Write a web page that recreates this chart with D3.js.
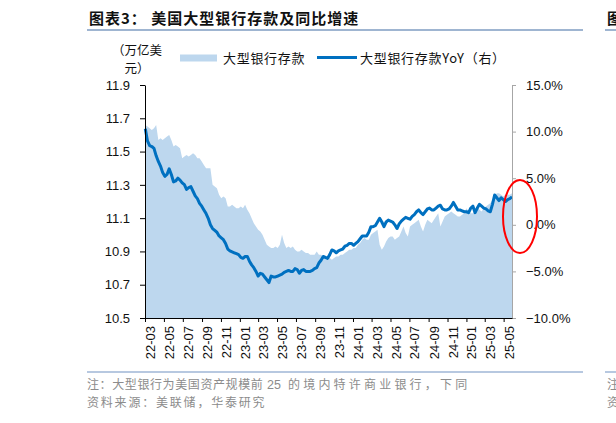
<!DOCTYPE html>
<html>
<head>
<meta charset="utf-8">
<script src="https://cdn.jsdelivr.net/npm/d3@7"></script>
<style>
  body { margin: 0; background: #fff; }
  svg { display: block; font-family: "Liberation Sans", Arial, "Noto Sans CJK SC", sans-serif; }
  .cn { font-family: "Noto Sans CJK SC", sans-serif; }
</style>
</head>
<body>
<svg width="616" height="423"></svg>
<script>
// weekly H.8 observations, first week 2022-03-02
const startWeek = "2022-03-02"

// 大型银行存款, 万亿美元
const deposits = [
  11.66, 11.65, 11.64, 11.63, 11.64, 11.66, 11.57, 11.58, 11.57, 11.58,
  11.59, 11.60, 11.57, 11.53, 11.54, 11.53, 11.52, 11.46, 11.47, 11.48,
  11.47, 11.48, 11.49, 11.48, 11.46, 11.46, 11.44, 11.42, 11.40, 11.40,
  11.40, 11.30, 11.29, 11.28, 11.24, 11.22, 11.23, 11.22, 11.17, 11.17,
  11.18, 11.17, 11.16, 11.16, 11.17, 11.16, 11.18, 11.15, 11.13, 11.10,
  11.07, 11.05, 11.03, 11.02, 11.00, 10.97, 10.94, 10.93, 10.92, 10.92,
  10.93, 10.92, 10.94, 11.00, 10.95, 10.92, 10.93, 10.92, 10.93, 10.91,
  10.90, 10.90, 10.91, 10.90, 10.89, 10.89, 10.88, 10.88, 10.88, 10.90,
  10.88, 10.88, 10.87, 10.87, 10.86, 10.86, 10.85, 10.86, 10.87, 10.87,
  10.88, 10.88, 10.89, 10.90, 10.91, 10.91, 10.92, 10.92, 10.94, 10.95,
  10.97, 10.98, 10.97, 10.97, 11.00, 11.01, 11.02, 11.03, 10.94, 10.91,
  10.93, 10.96, 10.98, 10.99, 10.99, 10.97, 10.98, 10.99, 11.02, 11.05,
  11.01, 10.99, 11.05, 11.06, 11.07, 11.08, 11.09, 11.05, 11.02, 11.06,
  11.09, 11.08, 11.07, 11.09, 11.11, 11.13, 11.05, 11.08, 11.11, 11.12,
  11.13, 11.14, 11.13, 11.12, 11.11, 11.11, 11.12, 11.13, 11.16, 11.14,
  11.13, 11.13, 11.15, 11.17, 11.15, 11.14, 11.16, 11.17, 11.18, 11.19,
  11.21, 11.23, 11.25, 11.25, 11.24, 11.23, 11.24, 11.24, 11.24, 11.25
]

// 大型银行存款YoY, %
const yoy = [
  10.3, 9.0, 8.5, 8.4, 8.2, 7.4, 6.8, 6.3, 5.6, 5.2,
  5.4, 6.0, 5.4, 4.6, 4.7, 5.0, 4.8, 4.5, 4.3, 3.8,
  4.0, 4.1, 3.6, 3.1, 2.8, 2.3, 2.0, 1.6, 1.2, 0.7,
  0.0, -0.4, -0.6, -0.8, -1.2, -1.4, -1.6, -2.0, -2.6, -2.8,
  -2.9, -3.0, -3.1, -3.2, -3.5, -3.6, -3.4, -3.4, -3.9, -4.3,
  -4.6, -5.0, -5.5, -5.2, -5.3, -5.6, -5.9, -6.2, -5.5, -5.6,
  -5.6, -5.5, -5.4, -5.3, -5.1, -5.0, -4.9, -5.0, -5.0, -4.7,
  -4.8, -5.2, -4.9, -4.8, -5.0, -5.0, -5.0, -4.9, -4.7, -4.6,
  -4.1, -3.8, -3.4, -3.5, -3.6, -3.2, -2.7, -2.8, -3.0, -2.8,
  -2.7, -2.6, -2.3, -2.2, -2.0, -2.0, -2.2, -2.0, -1.8, -1.5,
  -1.2, -1.2, -1.2, -0.8, -0.2, -0.2, -0.1, 0.3, 0.7, 0.3,
  -0.2, 0.3, 0.5, 0.4, 0.3, 0.0, -0.4, 0.1, 0.4, 0.6,
  0.8, 0.7, 0.6, 0.9, 1.1, 1.4, 1.6, 1.3, 1.1, 1.4,
  1.7, 1.8, 1.6, 1.6, 1.8, 2.0, 2.1, 1.7, 1.6, 1.6,
  1.7, 2.0, 2.4, 2.0, 1.6, 1.6, 1.5, 1.4, 1.4, 1.3,
  1.8, 2.0, 1.3, 1.8, 2.2, 2.0, 1.8, 1.7, 1.5, 1.4,
  2.2, 3.2, 2.9, 2.6, 2.9, 2.7, 2.5, 2.7, 2.8, 3.0
]

const leftTicks = [10.5, 10.7, 10.9, 11.1, 11.3, 11.5, 11.7, 11.9]
const rightTicks = [-10, -5, 0, 5, 10, 15]

const title = "图表3：  美国大型银行存款及同比增速"
const unitLabel = ["（万亿美", "元）"]
const legendNames = ["大型银行存款", "大型银行存款YoY（右）"]
const notePart1 = "注：大型银行为美国资产规模前"
const notePart2 = "25"
const notePart3 = "的境内特许商业银行，下同"
const source = "资料来源：美联储，华泰研究"

const areaColor = "#bdd7ee"
const lineColor = "#0070c0"

let parse = d3.timeParse("%Y-%m-%d")
let start = parse(startWeek)
let data = deposits.map((d, i) => ({
  date: d3.timeDay.offset(start, 7 * i),
  dep: d,
  yoy: yoy[i]
}))

let svg = d3.select("svg")

let plotLeft = 145, plotRight = 512, plotTop = 85, plotBottom = 318

let x = d3.scaleTime()
  .domain([parse("2022-03-01"), parse("2025-05-28")])
  .range([plotLeft, plotRight])
let yL = d3.scaleLinear().domain([10.5, 11.9]).range([plotBottom, plotTop])
let yR = d3.scaleLinear().domain([-10, 15]).range([plotBottom, plotTop])

// title + rules
svg.append("text")
  .attr("class", "cn")
  .attr("x", 89).attr("y", 24)
  .attr("font-size", "15px").attr("font-weight", "bold")
  .attr("letter-spacing", "1px")
  .attr("fill", "#111")
  .text(title)

svg.append("line")
  .attr("x1", 87).attr("x2", 583).attr("y1", 30).attr("y2", 30)
  .attr("stroke", "#7f9cc2").attr("stroke-width", 1.5)

svg.append("line")
  .attr("x1", 87).attr("x2", 583).attr("y1", 372).attr("y2", 372)
  .attr("stroke", "#9fb6d6").attr("stroke-width", 1.5)

// bits of the next chart at the right edge
svg.append("text").attr("class", "cn")
  .attr("x", 607).attr("y", 24).attr("font-size", "15px").attr("font-weight", "bold")
  .attr("fill", "#111").text("图表4")
svg.append("line")
  .attr("x1", 605).attr("x2", 616).attr("y1", 30).attr("y2", 30)
  .attr("stroke", "#7f9cc2").attr("stroke-width", 1.5)
svg.append("line")
  .attr("x1", 605).attr("x2", 616).attr("y1", 372).attr("y2", 372)
  .attr("stroke", "#9fb6d6").attr("stroke-width", 1.5)
svg.append("text").attr("class", "cn")
  .attr("x", 607).attr("y", 389).attr("font-size", "12px").attr("fill", "#8c8c8c").text("注：")
svg.append("text").attr("class", "cn")
  .attr("x", 607).attr("y", 407).attr("font-size", "12px").attr("fill", "#8c8c8c").text("资料")

// unit label
unitLabel.forEach((t, i) => {
  svg.append("text")
    .attr("class", "cn")
    .attr("x", 137).attr("y", 55 + i * 18)
    .attr("text-anchor", "middle")
    .attr("font-size", "12.5px")
    .attr("fill", "#111")
    .text(t)
})

// legend
svg.append("rect")
  .attr("x", 180).attr("y", 54.5).attr("width", 37).attr("height", 7)
  .attr("fill", areaColor)
svg.append("text").attr("class", "cn")
  .attr("x", 223).attr("y", 62.5).attr("font-size", "13px")
  .attr("letter-spacing", "0.7px").attr("fill", "#111")
  .text(legendNames[0])
svg.append("line")
  .attr("x1", 317).attr("x2", 357).attr("y1", 57.5).attr("y2", 57.5)
  .attr("stroke", lineColor).attr("stroke-width", 3)
svg.append("text").attr("class", "cn")
  .attr("x", 360).attr("y", 62.5).attr("font-size", "13px")
  .attr("letter-spacing", "0.7px").attr("fill", "#111")
  .text(legendNames[1])

// area
let area = d3.area()
  .x(d => x(d.date))
  .y0(plotBottom)
  .y1(d => yL(d.dep))

svg.append("path")
  .datum(data)
  .attr("d", area)
  .attr("fill", areaColor)

// yoy line
let line = d3.line()
  .x(d => x(d.date))
  .y(d => yR(d.yoy))

svg.append("path")
  .datum(data)
  .attr("d", line)
  .attr("fill", "none")
  .attr("stroke", lineColor)
  .attr("stroke-width", 3)
  .attr("stroke-linejoin", "round")

// left axis
let gL = svg.append("g")
  .attr("transform", "translate(" + plotLeft + ",0)")
  .call(d3.axisLeft(yL).tickValues(leftTicks).tickFormat(d3.format(".1f"))
    .tickSize(5).tickSizeOuter(0).tickPadding(10))
gL.selectAll("text").attr("font-size", "13px").attr("fill", "#111")
  .style("font-family", "'Liberation Sans', Arial, sans-serif")
gL.selectAll("line, path").attr("stroke", "#000")

// right axis
let gR = svg.append("g")
  .attr("transform", "translate(" + plotRight + ",0)")
  .call(d3.axisRight(yR).tickValues(rightTicks).tickFormat(d => d3.format(".1f")(d) + "%")
    .tickSize(4).tickSizeOuter(0).tickPadding(10))
gR.selectAll("text").attr("font-size", "13px").attr("fill", "#111")
  .style("font-family", "'Liberation Sans', Arial, sans-serif")
gR.selectAll("line, path").attr("stroke", "#a6a6a6")

// bottom axis
let months = d3.timeMonth.every(2).range(parse("2022-03-01"), parse("2025-05-02"))
let gX = svg.append("g")
  .attr("transform", "translate(0," + plotBottom + ")")
  .call(d3.axisBottom(x).tickValues(months).tickFormat(d3.timeFormat("%y-%m"))
    .tickSize(4).tickSizeOuter(0))
gX.selectAll("line, path").attr("stroke", "#000")
gX.selectAll("text")
  .attr("font-size", "13px").attr("fill", "#111")
  .style("font-family", "'Liberation Sans', Arial, sans-serif")
  .attr("text-anchor", "end")
  .attr("transform", "rotate(-90)")
  .attr("x", -8).attr("y", 5).attr("dy", "0.35em")

// footnotes
svg.append("text").attr("class", "cn")
  .attr("x", 87).attr("y", 389).attr("font-size", "12px").attr("fill", "#8c8c8c")
  .attr("letter-spacing", "0.6px")
  .text(notePart1)
svg.append("text")
  .attr("x", 267).attr("y", 389).attr("font-size", "12.5px").attr("fill", "#8c8c8c")
  .text(notePart2)
svg.append("text").attr("class", "cn")
  .attr("x", 288).attr("y", 389).attr("font-size", "12px").attr("fill", "#8c8c8c")
  .attr("letter-spacing", "3.2px")
  .text(notePart3)
svg.append("text").attr("class", "cn")
  .attr("x", 87).attr("y", 407).attr("font-size", "12px").attr("fill", "#8c8c8c")
  .attr("letter-spacing", "1.8px")
  .text(source)

// red highlight ellipse
svg.append("ellipse")
  .attr("cx", 520).attr("cy", 216.5).attr("rx", 17).attr("ry", 36.5)
  .attr("fill", "none").attr("stroke", "#ff0000").attr("stroke-width", 2)
</script>
</body>
</html>
